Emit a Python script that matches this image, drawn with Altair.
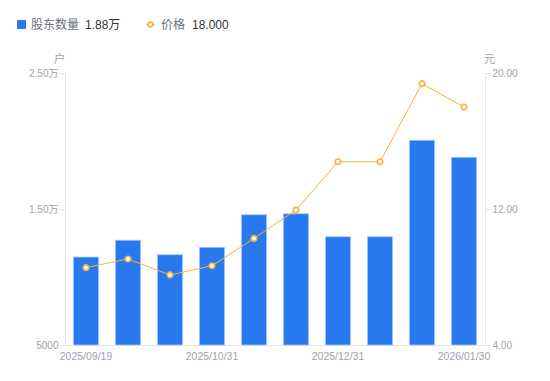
import altair as alt
import pandas as pd

dates = ["2025/09/19", "2025/09/30", "2025/10/20", "2025/10/31", "2025/11/20",
         "2025/12/10", "2025/12/31", "2026/01/09", "2026/01/20", "2026/01/30"]
holders = [11470, 12700, 11640, 12180, 14580, 14650, 12960, 12960, 20050, 18800]
prices = [8.55, 9.06, 8.12, 8.66, 10.27, 11.94, 14.78, 14.78, 19.37, 18.00]
shown_dates = [dates[0], dates[3], dates[6], dates[9]]

BLUE = "#2878F0"
ORANGE = "#F7B23F"
GRAY = "#A0A2AE"
FONT = "Liberation Sans, Noto Sans CJK SC, sans-serif"

df = pd.DataFrame({"date": dates, "holders": holders, "price": prices})

x = alt.X("date:N", sort=None, title=None,
          scale=alt.Scale(paddingInner=0.4, paddingOuter=0.2),
          axis=alt.Axis(values=shown_dates, ticks=False, domainColor="#E6E6E6",
                        labelColor=GRAY, labelFontSize=10.5, labelPadding=6,
                        labelAngle=0, labelOverlap=False, labelFont=FONT))

bars = alt.Chart(df).mark_bar(color=BLUE, stroke="#A9C9F7", strokeWidth=0.8).encode(
    x=x,
    y=alt.Y("holders:Q", title="户",
            scale=alt.Scale(domain=[5000, 25000], zero=False, nice=False),
            axis=alt.Axis(values=[5000, 15000, 25000], orient="left",
                          labelExpr="datum.value >= 10000 ? format(datum.value/10000, '.2f') + '万' : datum.value",
                          domainColor="#E6E6E6", tickColor="#E0E0E0", tickSize=5,
                          labelPadding=2, labelColor=GRAY, labelFontSize=10, labelFont=FONT,
                          titleAngle=0, titleX=-6, titleY=-11, titleAlign="center",
                          titleBaseline="alphabetic", titleFontSize=11.5,
                          titleFontWeight="normal", titleColor=GRAY, titleFont=FONT)),
    y2=alt.datum(5000),
)

yprice = alt.Y("price:Q", title="元",
               scale=alt.Scale(domain=[4, 20], zero=False, nice=False),
               axis=alt.Axis(values=[4, 12, 20], orient="right", format=".2f",
                             domainColor="#E6E6E6", tickColor="#E0E0E0", tickSize=5,
                             labelPadding=2, labelColor=GRAY, labelFontSize=10, labelFont=FONT,
                             titleAngle=0, titleX=4, titleY=-11, titleAlign="center",
                             titleBaseline="alphabetic", titleFontSize=11.5,
                             titleFontWeight="normal", titleColor=GRAY, titleFont=FONT))

line = alt.Chart(df).mark_line(color=ORANGE, strokeWidth=1).encode(
    x=alt.X("date:N", sort=None, bandPosition=0.5), y=yprice)
pts = alt.Chart(df).mark_point(shape="circle", filled=True, fill="white", stroke=ORANGE,
                               strokeWidth=1.7, size=30, opacity=1).encode(
    x=alt.X("date:N", sort=None, bandPosition=0.5), y=yprice)

price_layer = alt.layer(line, pts)

# legend (top)
hold_txt = f"{holders[-1] / 10000:.2f}万"
price_txt = f"{prices[-1]:.3f}"
one = pd.DataFrame({"k": [0]})
leg_sq = alt.Chart(one).mark_square(color=BLUE, size=80, opacity=1).encode(
    x=alt.value(-43.5), y=alt.value(-48.5))
leg_t1 = alt.Chart(one).mark_text(text="股东数量", align="left", baseline="middle",
                                  fontSize=12, color="#6A6E7A", font=FONT).encode(
    x=alt.value(-34), y=alt.value(-48.5))
leg_v1 = alt.Chart(one).mark_text(text=hold_txt, align="left", baseline="middle",
                                  fontSize=12, color="#333333", font=FONT).encode(
    x=alt.value(20), y=alt.value(-48.5))
leg_ln = alt.Chart(one).mark_rule(color=ORANGE, strokeWidth=1.2).encode(
    x=alt.value(81), x2=alt.value(90), y=alt.value(-48.5))
leg_pt = alt.Chart(one).mark_point(shape="circle", filled=True, fill="white", stroke=ORANGE,
                                   strokeWidth=1.6, size=22, opacity=1).encode(
    x=alt.value(85.5), y=alt.value(-48.5))
leg_t2 = alt.Chart(one).mark_text(text="价格", align="left", baseline="middle",
                                  fontSize=12, color="#6A6E7A", font=FONT).encode(
    x=alt.value(96), y=alt.value(-48.5))
leg_v2 = alt.Chart(one).mark_text(text=price_txt, align="left", baseline="middle",
                                  fontSize=12, color="#333333", font=FONT).encode(
    x=alt.value(127), y=alt.value(-48.5))

chart = alt.layer(bars, price_layer, leg_sq, leg_t1, leg_v1, leg_ln, leg_pt, leg_t2, leg_v2).resolve_scale(
    y="independent"
).properties(
    width=420, height=272,
    padding={"left": 57, "top": 65, "right": 57, "bottom": 28},
    autosize="none",
).configure_view(stroke=None).configure_axis(grid=False)

chart.save("out.html", embed_options={"renderer": "svg", "actions": False})
